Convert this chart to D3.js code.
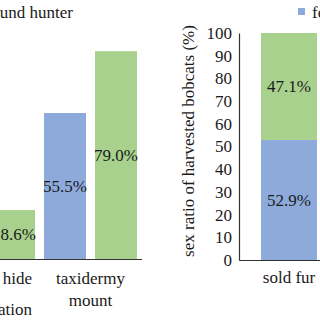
<!DOCTYPE html>
<html>
<head>
<meta charset="utf-8">
<script src="https://cdn.jsdelivr.net/npm/d3@7"></script>
</head>
<body style="margin:0; background:#fff">
<svg id="chart" width="320" height="320" font-family="Liberation Serif"></svg>
<script>
/* global d3 */

// left panel: share per use, by hunter group
const leftCategories = ['hide', 'taxidermy']
const leftLabels = [['tanned hide', 'for decoration'], ['taxidermy', 'mount']]
const leftSeries = ['female', 'male']
const leftFemale = [31.2, 55.5]
const leftMale = [18.6, 79.0]
const leftTitle = 'background hunter'

// right panel: sex ratio of harvested bobcats
const rightCategories = ['sold fur']
const rightFemale = [52.9]
const rightMale = [47.1]
const rightTicks = [0, 10, 20, 30, 40, 50, 60, 70, 80, 90, 100]
const rightAxisTitle = 'sex ratio of harvested bobcats (%)'
const legendItems = ['female', 'male']

const colors = { female: '#8eaadb', male: '#a8d18d' }
const textColor = '#1a1a1a'

const svg = d3.select('#chart')

function styleText (sel) {
  sel.attr('font-size', 17)
    .attr('fill', textColor)
    .attr('font-family', 'Liberation Serif')
    .style('font-family', '"Liberation Serif", "Times New Roman", Times')
}

function renderLeft () {
  const g = svg.append('g')

  const x0 = d3.scaleBand()
    .domain(leftCategories)
    .range([-62.5, 141.5])

  const x1 = d3.scaleBand()
    .domain(leftSeries)
    .range([0, x0.bandwidth()])
    .paddingInner(0.176)
    .paddingOuter(0.088)

  const y = d3.scaleLinear()
    .domain([0, 100])
    .range([259, -4])

  const data = []
  leftCategories.forEach((c, i) => {
    data.push({ cat: c, series: 'female', value: leftFemale[i] })
    data.push({ cat: c, series: 'male', value: leftMale[i] })
  })

  g.append('g')
    .selectAll('rect').data(data).enter().append('rect')
    .attr('x', d => x0(d.cat) + x1(d.series))
    .attr('y', d => y(d.value))
    .attr('width', x1.bandwidth())
    .attr('height', d => y(0) - y(d.value))
    .attr('fill', d => colors[d.series])

  g.append('g')
    .selectAll('text').data(data).enter().append('text')
    .attr('x', d => x0(d.cat) + x1(d.series) + x1.bandwidth() / 2)
    .attr('y', d => (y(d.value) + y(0)) / 2)
    .attr('dy', '0.35em')
    .attr('text-anchor', 'middle')
    .call(styleText)
    .text(d => d.value.toFixed(1) + '%')

  g.append('g')
    .attr('transform', `translate(0,${y(0)})`)
    .call(d3.axisBottom(x0).tickSize(0).tickFormat(''))
    .call(a => a.select('.domain').attr('stroke', '#333').attr('stroke-width', 1.2))

  // first category label is only partly in view, its right edge sits at x=32
  const gaps = [31, 22]
  leftCategories.forEach((c, i) => {
    const cx = x0(c) + x0.bandwidth() / 2
    leftLabels[i].forEach((line, j) => {
      g.append('text')
        .attr('x', i === 0 ? 32 : cx)
        .attr('y', 284 + j * gaps[i])
        .attr('text-anchor', i === 0 ? 'end' : 'middle')
        .call(styleText)
        .text(line)
    })
  })

  g.append('text')
    .attr('x', 73)
    .attr('y', 18)
    .attr('text-anchor', 'end')
    .call(styleText)
    .text(leftTitle)
}

function renderRight () {
  const g = svg.append('g')

  const x = d3.scaleBand()
    .domain(rightCategories)
    .range([239, 339])
    .padding(0.282)

  const y = d3.scaleLinear()
    .domain([0, 100])
    .range([260, 33])

  const stack = rightCategories.map((c, i) => [
    { cat: c, series: 'female', y0: 0, y1: rightFemale[i] },
    { cat: c, series: 'male', y0: rightFemale[i], y1: rightFemale[i] + rightMale[i] }
  ]).flat()

  g.append('g')
    .selectAll('rect').data(stack).enter().append('rect')
    .attr('x', d => x(d.cat))
    .attr('y', d => y(d.y1))
    .attr('width', x.bandwidth())
    .attr('height', d => y(d.y0) - y(d.y1))
    .attr('fill', d => colors[d.series])

  g.append('g')
    .selectAll('text').data(stack).enter().append('text')
    .attr('x', d => x(d.cat) + x.bandwidth() / 2)
    .attr('y', d => (y(d.y0) + y(d.y1)) / 2)
    .attr('dy', '0.35em')
    .attr('text-anchor', 'middle')
    .call(styleText)
    .text(d => (d.y1 - d.y0).toFixed(1) + '%')

  g.append('g')
    .attr('transform', 'translate(239,0)')
    .call(d3.axisLeft(y).tickValues(rightTicks).tickSize(0).tickPadding(7))
    .call(a => a.attr('font-family', null))
    .call(a => a.select('.domain').attr('stroke', '#333').attr('stroke-width', 1.2))
    .call(a => a.selectAll('text').call(styleText))

  g.append('g')
    .attr('transform', `translate(0,${y(0)})`)
    .call(d3.axisBottom(x).tickSize(0).tickPadding(11))
    .call(a => a.attr('font-family', null))
    .call(a => a.select('.domain').attr('stroke', '#333').attr('stroke-width', 1.2))
    .call(a => a.selectAll('text').call(styleText))

  g.append('text')
    .attr('transform', 'translate(194,141) rotate(-90)')
    .attr('text-anchor', 'middle')
    .call(styleText)
    .text(rightAxisTitle)

  const legend = g.append('g')
    .selectAll('g').data(legendItems).enter().append('g')
    .attr('transform', (d, i) => `translate(${298 + i * 70},8)`)

  legend.append('rect')
    .attr('width', 7)
    .attr('height', 7)
    .attr('fill', d => colors[d])

  legend.append('text')
    .attr('x', 14)
    .attr('y', 10)
    .call(styleText)
    .text(d => d)
}

renderLeft()
renderRight()
</script>
</body>
</html>
